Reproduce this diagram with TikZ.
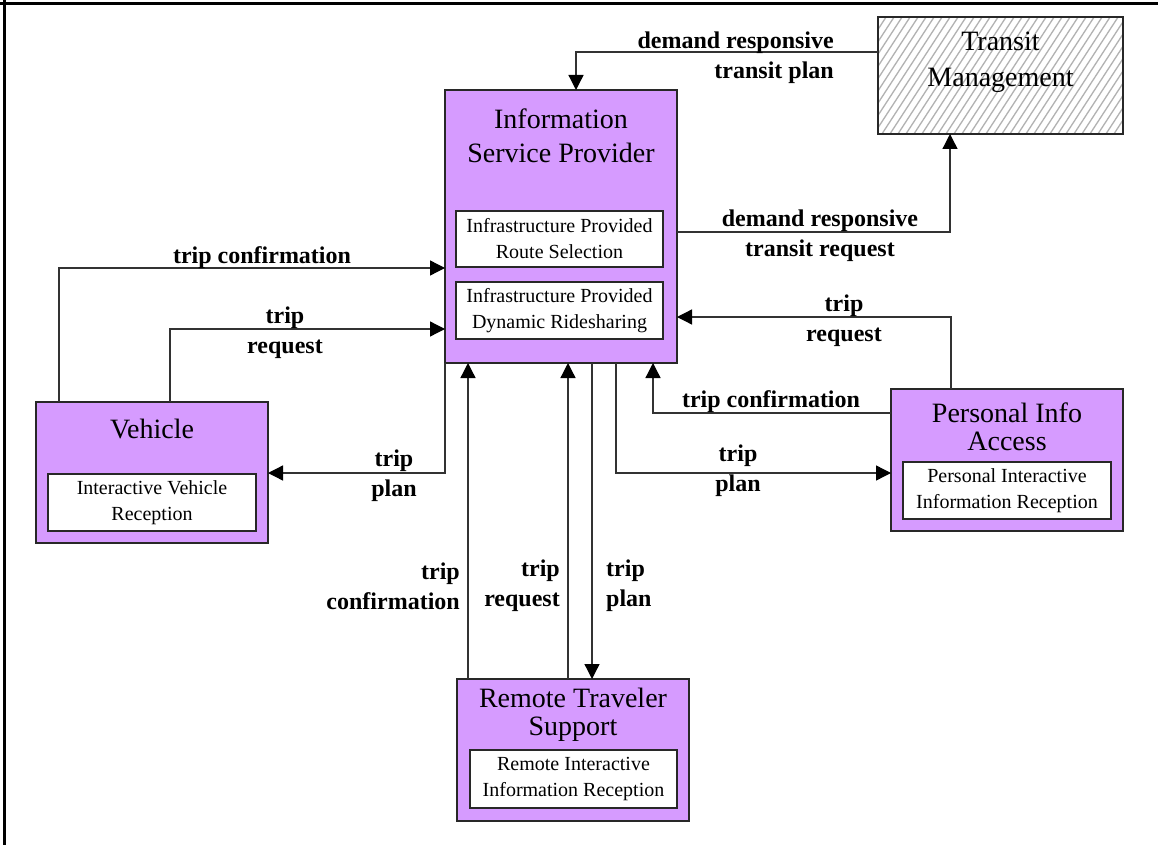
\documentclass[tikz,border=0pt]{standalone}
\usepackage{fontspec}
\setmainfont{Liberation Serif}
\usetikzlibrary{arrows.meta}
\definecolor{boxfill}{RGB}{214,155,255}
\definecolor{edgec}{RGB}{40,40,40}
\definecolor{wirec}{RGB}{50,50,50}
\begin{document}
\begin{tikzpicture}[x=1pt,y=-1pt,
  elem/.style={draw=edgec, line width=1.5pt, fill=boxfill, anchor=north west, inner sep=0pt, outer sep=0pt},
  extern/.style={draw=edgec, line width=1.5pt, fill=white, anchor=north west, inner sep=0pt, outer sep=0pt},
  ttl/.style={align=center, inner sep=0pt},
  sub/.style={draw=edgec, line width=1.5pt, fill=white, align=center, inner sep=0pt, outer sep=0pt,
              font=\fontsize{20}{26}\selectfont},
  lbl/.style={font=\bfseries\fontsize{24}{30}\selectfont, inner sep=0pt},
  flow/.style={draw=wirec, line width=1.3pt, -{Triangle[length=15pt,width=15pt,color=black]}},
  hatch/.style={draw=black!30, line width=1.3pt}
]
\useasboundingbox (0,0) rectangle (1158,845);

% page frame (top and left rules)
\draw[line width=3pt] (0,4) -- (1158,4);
\draw[line width=3pt] (4,0) -- (4,845);

% ---- Information Service Provider ----
\node[elem, minimum width=232pt, minimum height=273pt] (isp) at (445,90) {};
\node[ttl, font=\fontsize{28}{34}\selectfont] (ispT) at (561,136) {Information\\Service Provider};
\node[sub, minimum width=207pt, minimum height=56pt] (ispA) at (559.5,239) {Infrastructure Provided\\Route Selection};
\node[sub, minimum width=207pt, minimum height=57pt] (ispB) at (559.5,310.5) {Infrastructure Provided\\Dynamic Ridesharing};

% ---- Transit Management (hatched) ----
\node[extern, minimum width=245pt, minimum height=117pt] (tm) at (878,17) {};
\begin{scope}
  \clip (tm.south west) rectangle (tm.north east);
  \foreach \i in {-80,-72,...,250}
    \draw[hatch] (878+\i,140) -- ++(84,-129);
\end{scope}
\draw[draw=edgec, line width=1.5pt] (tm.south west) rectangle (tm.north east);
\node[ttl, font=\fontsize{28}{36}\selectfont] (tmT) at (1000.5,62.5) {Transit\\Management};

% ---- Vehicle ----
\node[elem, minimum width=232pt, minimum height=141pt] (veh) at (36,402) {};
\node[ttl, font=\fontsize{28}{34}\selectfont] (vehT) at (152,429) {Vehicle};
\node[sub, minimum width=208pt, minimum height=57pt] (vehA) at (152,502.5) {Interactive Vehicle\\Reception};

% ---- Personal Info Access ----
\node[elem, minimum width=232pt, minimum height=142pt] (pia) at (891,389) {};
\node[ttl, font=\fontsize{28}{28}\selectfont] (piaT) at (1007,427) {Personal Info\\Access};
\node[sub, minimum width=208pt, minimum height=57pt] (piaA) at (1007,490.5) {Personal Interactive\\Information Reception};

% ---- Remote Traveler Support ----
\node[elem, minimum width=232pt, minimum height=142pt] (rts) at (457,679) {};
\node[ttl, font=\fontsize{28}{28}\selectfont] (rtsT) at (573,715) {Remote Traveler\\Support};
\node[sub, minimum width=207pt, minimum height=58pt] (rtsA) at (573.5,779) {Remote Interactive\\Information Reception};

% ---- flows ----
\draw[flow] (tm.west |- 0,52) -| (isp.north -| 576,0);
\draw[flow] (isp.east |- 0,232) -| (tm.south -| 950,0);
\draw[flow] (pia.north -| 951,0) |- (isp.east |- 0,317);
\draw[flow] (pia.west |- 0,413) -| (isp.south -| 653,0);
\draw[flow] (isp.south -| 616,0) |- (pia.west |- 0,473);
\draw[flow] (veh.north -| 59,0) |- (isp.west |- 0,268);
\draw[flow] (veh.north -| 170,0) |- (isp.west |- 0,329);
\draw[flow] (isp.south west) |- (veh.east |- 0,473);
\draw[flow] (rts.north -| 468,0) -- (isp.south -| 468,0);
\draw[flow] (rts.north -| 568,0) -- (isp.south -| 568,0);
\draw[flow] (isp.south -| 592,0) -- (rts.north -| 592,0);

% ---- flow labels ----
\node[lbl, align=right, anchor=east] (l1) at (834,58) {demand responsive\\transit plan};
\node[lbl, align=center] (l2) at (820,235.5) {demand responsive\\transit request};
\node[lbl, align=center] (l3) at (844,320.5) {trip\\request};
\node[lbl] (l4) at (771,402) {trip confirmation};
\node[lbl, align=center] (l5) at (738,471) {trip\\plan};
\node[lbl] (l6) at (262,258) {trip confirmation};
\node[lbl, align=center] (l7) at (285,333) {trip\\request};
\node[lbl, align=center] (l8) at (394,476) {trip\\plan};
\node[lbl, align=right, anchor=east] (l9) at (460,586) {trip\\confirmation};
\node[lbl, align=right, anchor=east] (l10) at (560,586) {trip\\request};
\node[lbl, align=left, anchor=west] (l11) at (606,586) {trip\\plan};
\end{tikzpicture}
\end{document}
